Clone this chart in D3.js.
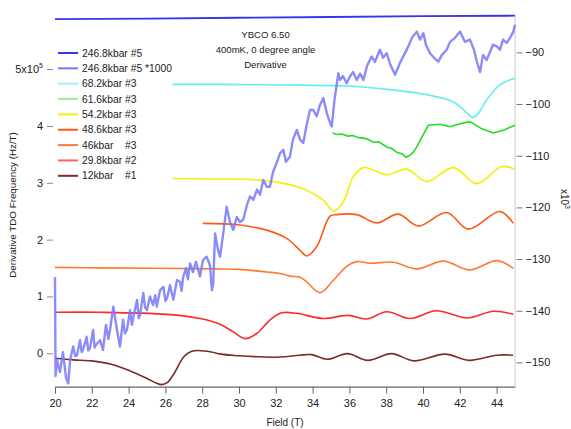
<!DOCTYPE html>
<html><head><meta charset="utf-8">
<script src="https://cdn.jsdelivr.net/npm/d3@7"></script>
<style>
body{margin:0;background:#fff;}
text{font-family:"Liberation Sans",Arial,sans-serif;fill:#222;}
</style></head>
<body>
<svg id="c" width="571" height="429"></svg>
<script>
// ---- data ----
const xTicks = [20,22,24,26,28,30,32,34,36,38,40,42,44];
const leftTicks = [0,1,2,3,4,5];
const rightTicks = [-90,-100,-110,-120,-130,-140,-150];
const annotation = ["YBCO 6.50","400mK, 0 degree angle","Derivative"];
const seriesNames = ["246.8kbar #5","246.8kbar #5 *1000","68.2kbar #3","61.6kbar #3","54.2kbar #3","48.6kbar #3","46kbar    #3","29.8kbar #2","12kbar    #1"];
const seriesColors = ["#3535f0","#7878f8","#66eeee","#22dd22","#f5f000","#ff5a14","#ff7a35","#ff2a2a","#7a2a2a"];

// 246.8kbar #5 (right axis, x10^3)
const s2468 = [[20,-83.55],[25,-83.45],[30,-83.3],[35,-83.15],[40,-83.0],[45,-82.9]];
// 246.8kbar #5 *1000 (left axis, x10^5)
const s2468x1000 = [[20.00,1.34],[20.03,-0.40],[20.11,-0.12],[20.27,-0.33],[20.43,0.02],[20.60,-0.43],[20.72,-0.53],[20.82,-0.12],[20.99,0.12],[21.10,-0.05],[21.20,-0.03],[21.36,0.23],[21.45,0.02],[21.52,0.06],[21.72,0.29],[21.80,0.05],[21.90,0.09],[22.07,0.41],[22.15,0.10],[22.23,0.15],[22.45,0.23],[22.61,0.06],[22.77,0.50],[22.90,0.25],[22.99,0.41],[23.17,0.82],[23.37,0.41],[23.53,0.12],[23.70,0.59],[23.80,0.35],[23.91,0.41],[24.08,0.76],[24.18,0.50],[24.26,0.64],[24.46,0.94],[24.55,0.62],[24.62,0.67],[24.80,1.06],[24.90,0.80],[25.00,0.76],[25.16,1.00],[25.33,0.85],[25.45,1.02],[25.53,0.82],[25.71,1.11],[25.89,1.17],[26.00,0.92],[26.09,0.97],[26.25,1.20],[26.43,0.94],[26.63,1.29],[26.79,1.26],[26.88,1.10],[26.97,1.35],[27.12,1.50],[27.22,1.30],[27.34,1.58],[27.50,1.43],[27.66,1.61],[27.88,1.35],[28.04,1.64],[28.24,1.70],[28.42,1.55],[28.53,1.11],[28.60,1.23],[28.70,2.11],[28.86,1.82],[28.97,1.70],[29.13,2.08],[29.33,2.58],[29.51,2.31],[29.69,2.17],[29.88,2.40],[30.05,2.31],[30.23,2.35],[30.43,2.61],[30.60,2.76],[30.78,2.70],[30.98,2.88],[31.14,2.79],[31.32,3.05],[31.51,2.93],[31.68,2.93],[31.85,3.19],[32.05,3.35],[32.23,3.52],[32.41,3.58],[32.55,3.37],[32.77,3.46],[32.93,3.76],[33.14,3.93],[33.32,3.76],[33.49,3.70],[33.68,4.02],[33.86,4.28],[34.04,4.28],[34.22,4.17],[34.40,4.37],[34.58,4.49],[34.77,4.23],[34.89,4.11],[35.04,3.99],[35.19,4.46],[35.40,4.93],[35.49,4.81],[35.65,4.88],[35.85,4.75],[36.03,4.87],[36.20,4.95],[36.40,4.81],[36.58,4.92],[36.76,4.81],[36.96,5.06],[37.21,5.22],[37.39,5.13],[37.66,5.34],[37.83,5.20],[38.03,5.28],[38.21,5.09],[38.48,4.90],[38.75,5.11],[38.97,5.25],[39.20,5.40],[39.40,5.55],[39.66,5.66],[39.84,5.52],[40.02,5.63],[40.16,5.43],[40.38,5.28],[40.60,5.20],[40.83,5.13],[41.03,5.25],[41.29,5.34],[41.47,5.48],[41.74,5.55],[42.01,5.66],[42.28,5.48],[42.55,5.52],[42.77,5.34],[42.93,5.13],[43.10,4.95],[43.26,5.25],[43.46,5.16],[43.64,5.30],[43.80,5.43],[44.01,5.40],[44.18,5.34],[44.35,5.52],[44.55,5.46],[44.73,5.55],[44.91,5.66],[45.00,5.78]];
// right-axis curves (x10^3)
const s682 = [[26.40,-96.2],[29.0,-96.2],[32.23,-96.3],[35.85,-96.5],[38.21,-97.2],[40.38,-98.3],[41.65,-99.6],[42.3,-101.4],[42.70,-102.6],[43.05,-101.6],[43.46,-99.2],[44.18,-96.3],[45.0,-95.0]];
const s616 = [[35.09,-105.6],[35.3,-105.9],[35.6,-105.8],[35.9,-106.2],[36.2,-106.1],[36.5,-106.5],[36.76,-106.6],[37.0,-106.8],[37.3,-107.4],[37.6,-107.3],[38.03,-108.3],[38.3,-108.6],[38.6,-109.4],[38.85,-109.6],[39.08,-110.3],[39.3,-109.9],[39.5,-109.2],[39.66,-108.3],[40.0,-106.0],[40.29,-104.1],[40.92,-103.9],[41.47,-104.4],[42.0,-103.8],[42.55,-103.4],[43.2,-104.8],[43.82,-105.6],[44.4,-105.0],[45.0,-104.1]];
const s542 = [[26.40,-114.4],[28.5,-114.5],[30.60,-114.6],[32.23,-115.2],[33.2,-116.0],[33.86,-117.0],[34.58,-118.6],[35.16,-120.7],[35.67,-118.9],[36.21,-114.1],[36.76,-112.3],[37.4,-112.9],[38.03,-113.7],[39.11,-112.6],[40.20,-115.0],[41.65,-112.3],[42.92,-115.4],[44.28,-112.1],[45.0,-112.6]];
const s486 = [[28.03,-123.1],[30.05,-123.4],[31.51,-124.4],[32.59,-126.0],[33.32,-128.3],[33.68,-129.4],[34.22,-127.6],[34.95,-121.7],[35.31,-121.4],[36.40,-121.4],[37.48,-123.0],[38.66,-121.3],[39.74,-123.6],[41.29,-121.0],[42.46,-124.2],[44.18,-120.8],[44.91,-123.1]];
const s46 = [[20,-131.6],[22.45,-131.7],[28.79,-131.9],[30.0,-132.0],[31.51,-132.5],[32.23,-132.8],[32.77,-133.3],[33.32,-133.5],[33.68,-134.4],[34.40,-136.5],[35.13,-134.1],[35.85,-131.4],[36.40,-130.5],[37.12,-130.8],[38.39,-130.6],[39.66,-131.9],[41.10,-130.4],[42.55,-132.1],[44.01,-130.3],[44.91,-131.8]];
const s298 = [[20,-140.3],[22.45,-140.3],[26.07,-140.7],[27.88,-141.5],[28.97,-142.6],[29.69,-144.1],[30.33,-145.4],[30.96,-144.4],[31.68,-141.8],[32.32,-140.4],[33.14,-140.5],[34.58,-141.5],[35.94,-140.9],[36.94,-141.6],[38.03,-140.2],[39.29,-141.5],[40.74,-140.0],[42.38,-141.4],[43.82,-140.1],[44.91,-140.7]];
const s12 = [[20.0,-149.2],[21,-149.5],[22,-149.7],[23,-150.3],[24,-151.5],[25,-153.1],[25.5,-154.0],[25.8,-154.3],[26.1,-153.9],[26.5,-152.0],[27.0,-148.9],[27.4,-147.9],[27.8,-147.7],[28.5,-148.0],[29.0,-148.4],[30.0,-148.7],[31.0,-148.9],[32.0,-149.0],[32.5,-148.9],[33.3,-148.6],[33.95,-148.5],[34.8,-149.4],[35.9,-148.3],[37.0,-149.6],[38.3,-148.3],[39.5,-149.7],[41.2,-148.4],[42.5,-149.6],[44.0,-148.6],[44.9,-148.6]];

// ---- chart ----
const svg = d3.select("#c");
const x = d3.scaleLinear().domain([20,45]).range([55,515]);
const yL = d3.scaleLinear().domain([-0.588,5.94]).range([386.7,15.7]);
const yR = d3.scaleLinear().domain([-154.7,-82.9]).range([386.7,15.7]);

// bottom axis
const gx = svg.append("g").attr("transform","translate(0,386.7)")
  .call(d3.axisBottom(x).tickValues(xTicks).tickSize(7).tickSizeOuter(0).tickPadding(6));
gx.select(".domain").attr("stroke","#666").attr("stroke-width",1.2);
gx.selectAll(".tick line").attr("stroke","#666");
gx.selectAll(".tick text").attr("font-size",11).attr("fill","#333").style("font-family","Liberation Sans, Arial, sans-serif");

// left axis (no domain line)
const gl = svg.append("g").attr("transform","translate(53,0)")
  .call(d3.axisLeft(yL).tickValues(leftTicks).tickSize(6).tickPadding(4).tickFormat(d=> d===5 ? "" : d3.format("d")(d)));
gl.select(".domain").remove();
gl.selectAll(".tick line").attr("stroke","#888");
gl.selectAll(".tick text").attr("font-size",11).attr("fill","#333").style("font-family","Liberation Sans, Arial, sans-serif");
gl.selectAll(".tick").filter(d=>d===5).select("text").each(function(){
  const t = d3.select(this);
  t.append("tspan").text("5x10");
  t.append("tspan").attr("dy","-5").attr("font-size",7).text("5");
});

// right axis
svg.append("line").attr("x1",515).attr("x2",515).attr("y1",15.7).attr("y2",386.7).attr("stroke","#ccc");
const gr = svg.append("g").attr("transform","translate(516.5,0)")
  .call(d3.axisRight(yR).tickValues(rightTicks).tickSize(6).tickPadding(3).tickFormat(d3.format("d")));
gr.select(".domain").remove();
gr.selectAll(".tick line").attr("stroke","#777");
gr.selectAll(".tick text").attr("font-size",11).attr("fill","#333").style("font-family","Liberation Sans, Arial, sans-serif");

// axis labels
svg.append("text").attr("x",285).attr("y",426).attr("text-anchor","middle").attr("font-size",10).text("Field (T)");
svg.append("text").attr("transform","translate(16,205) rotate(-90)").attr("text-anchor","middle").attr("font-size",9.8)
  .text("Derivative TDO Frequency (Hz/T)");
const rl = svg.append("text").attr("transform","translate(561,199) rotate(90)").attr("text-anchor","middle").attr("font-size",10);
rl.append("tspan").text("x10");
rl.append("tspan").attr("dy","-4").attr("font-size",7).text("3");

// curves
const lineR = d3.line().x(d=>x(d[0])).y(d=>yR(d[1])).curve(d3.curveCatmullRom.alpha(0.5));
const lineRlin = d3.line().x(d=>x(d[0])).y(d=>yR(d[1]));
const lineL = d3.line().x(d=>x(d[0])).y(d=>yL(d[1]));

const curves = [
  {d:s12, c:seriesColors[8], gen:lineR},
  {d:s298, c:seriesColors[7], gen:lineR},
  {d:s46, c:seriesColors[6], gen:lineR},
  {d:s486, c:seriesColors[5], gen:lineR},
  {d:s542, c:seriesColors[4], gen:lineR},
  {d:s616, c:seriesColors[3], gen:lineRlin},
  {d:s682, c:seriesColors[2], gen:lineR},
];
curves.forEach(k=>{
  svg.append("path").attr("d",k.gen(k.d)).attr("fill","none").attr("stroke",k.c).attr("stroke-width",1.6);
});
svg.append("path").attr("d",lineL(s2468x1000)).attr("fill","none").attr("stroke",seriesColors[1]).attr("stroke-width",2.4).attr("stroke-linejoin","round").attr("opacity",0.85);
svg.append("path").attr("d",lineRlin(s2468)).attr("fill","none").attr("stroke",seriesColors[0]).attr("stroke-width",1.8);

// annotation
annotation.forEach((t,i)=>{
  svg.append("text").attr("x",265.5).attr("y",38+i*15).attr("text-anchor","middle").attr("font-size",9.6).text(t);
});

// legend
const legOp = [1,1,0.6,0.45,1,1,1,0.75,1];
seriesNames.forEach((n,i)=>{
  const yy = 53 + i*15.35;
  svg.append("line").attr("x1",58).attr("x2",78).attr("y1",yy).attr("y2",yy)
    .attr("stroke",seriesColors[i]).attr("stroke-width",2).attr("opacity",legOp[i]);
  svg.append("text").attr("x",82).attr("y",yy+3.6).attr("font-size",10.3).style("white-space","pre").attr("fill","#333").text(n);
});
</script>
</body></html>
